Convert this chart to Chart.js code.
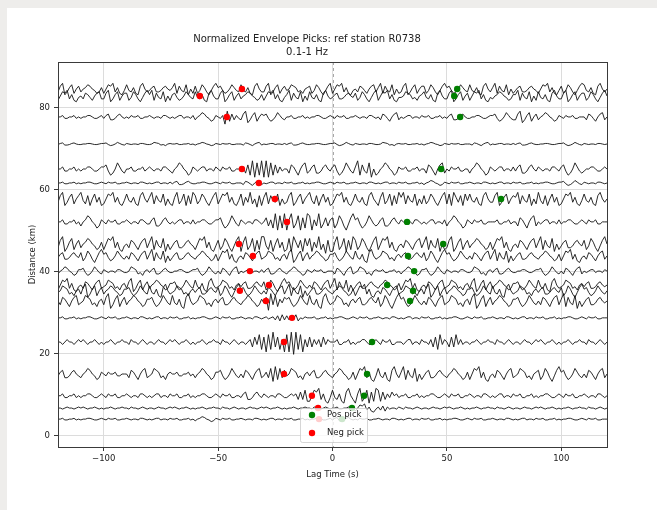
<!DOCTYPE html>
<html>
<head>
<meta charset="utf-8">
<title>Normalized Envelope Picks</title>
<script src="https://cdn.jsdelivr.net/npm/chart.js@4.4.1/dist/chart.umd.min.js"></script>
<style>
  html, body { margin: 0; padding: 0; background: #eeedeb; }
  #wrap { position: absolute; left: 7px; top: 8px; width: 650px; height: 502px; background: #ffffff; }
</style>
</head>
<body>
<div id="wrap"><canvas id="chart" width="650" height="502"></canvas></div>
<script>
// axis ticks
const xTicks = [-100, -50, 0, 50, 100];
const yTicks = [0, 20, 40, 60, 80];

// traces: baseline distance (km), gain (km per code step), and hand-read wiggle codes
// each code char is one sample, 1 s apart, from -120 s to 120 s ('5' = baseline)
const traceDist = [84.6, 82.9, 77.8, 71.2, 65.1, 61.7, 57.8, 52.2, 46.8, 43.9,
                   40.2, 36.8, 35.4, 32.9, 28.8, 22.9, 15.1, 9.8, 6.8, 4.1];
const traceGain = [0.35, 0.35, 0.35, 0.13, 0.5, 0.2, 0.4, 0.5, 0.45, 0.4,
                   0.35, 0.4, 0.4, 0.45, 0.25, 0.6, 0.45, 0.45, 0.25, 0.2];
const traceCodes = [
  "3791368257 3568754236 2587936214 8436217953 4673346754 6927438152 7248631479 6742358643 8436217953 3791368257 4587634256 7248631479 2587936214 5376425783 6927438152 3791368257 7248631479 6742358643 8436217953 6927438152 4673346754 2587936214 7248631479 8436217953 5",
  "2587936214 5376425783 3791368257 7248631479 6927438152 6742358643 8436217953 3791368257 3568754236 2587936214 6927438152 8436217953 4673346754 7248631479 2587936214 4587634256 8436217953 3791368257 2587936214 3568754236 6927438152 8436217953 3791368257 7248631479 5",
  "5564455645 4556654456 4673346754 5465564455 6545546654 5456645546 3568754236 5460927364 3791368257 6742358643 5564455645 4556654456 5465564455 6545546654 5376425783 5456645546 5564455645 4673346754 4556654456 6742358643 3791368257 3568754236 5465564455 5376425783 5",
  "4673346754 4556654456 6742358643 6545546654 4587634256 5564455645 3568754236 5465564455 5376425783 5456645546 4673346754 4556654456 6742358643 6545546654 4587634256 5564455645 3568754236 5465564455 5376425783 5456645546 4673346754 4556654456 6742358643 6545546654 5",
  "5564455645 4556654456 6742358643 5564455645 6545546654 3568754236 5456645546 5465564455 5637291829 1918273645 5376425783 4673346754 6742358643 6927438152 3568754236 5564455645 5376425783 5465564455 3568754236 5456645546 4673346754 6545546654 6742358643 4556654456 5",
  "5564455645 4556654456 5465564455 6545546654 5456645546 4673346754 4556654456 5465564455 5376425783 5456645546 5564455645 4556654456 5465564455 6545546654 5456645546 5564455645 3568754236 5465564455 6545546654 5456645546 5564455645 4556654456 6742358643 6545546654 5",
  "3791368257 9427158361 2587936214 8436217953 6927438152 1692481729 7248631479 2587936214 8163925071 6927438152 3791368257 9427158361 2587936214 8436217953 1692481729 6927438152 7248631479 2819637184 8436217953 3791368257 6927438152 9427158361 2587936214 8436217953 5",
  "5564455645 3568754236 5465564455 6545546654 4673346754 5456645546 4556654456 6742358643 6545546654 5736291829 1692481729 8163924736 7248631479 6742358643 4673346754 6545546654 5456645546 3568754236 5465564455 5564455645 5376425783 5456645546 4556654456 5465564455 5",
  "3791368257 3568754236 2587936214 5376425783 6927438152 4673346754 2587936214 7248631479 1692481729 9427158361 2819637184 8163925071 1692481729 7248631479 2587936214 5376425783 6927438152 3791368257 3568754236 2587936214 5376425783 6927438152 4673346754 7248631479 5",
  "4673346754 7248631479 6742358643 5376425783 6927438152 4673346754 3568754236 2587936214 5376425783 4587634256 3791368257 3568754236 6742358643 8436217953 4587634256 4673346754 7248631479 6742358643 5376425783 6927438152 4673346754 3568754236 2587936214 5376425783 5",
  "3568754236 6742358643 6545546654 4587634256 4673346754 4556654456 6742358643 5376425783 5456645546 4673346754 3568754236 5465564455 5376425783 4587634256 5564455645 3568754236 6742358643 6545546654 4587634256 4673346754 4556654456 6742358643 5376425783 5456645546 5",
  "2587936214 5376425783 4587634256 3791368257 3568754236 6742358643 8436217953 4587634256 4673346754 7248631479 6742358643 5376425783 6927438152 4673346754 3568754236 2587936214 5376425783 4587634256 3791368257 3568754236 6742358643 8436217953 4587634256 4673346754 5",
  "4587634256 3791368257 3568754236 6742358643 8436217953 4587634256 4673346754 7248631479 6742358643 5376425783 6927438152 4673346754 3568754236 2587936214 5376425783 4587634256 3791368257 3568754236 6742358643 8436217953 4587634256 4673346754 7248631479 6742358643 5",
  "5376425783 4587634256 3791368257 3568754236 6742358643 8436217953 4587634256 4673346754 3568754236 4709382647 6742358643 8436217953 4587634256 4673346754 7248631479 6742358643 5376425783 4587634256 3791368257 3568754236 6742358643 5376425783 6927438152 4673346754 5",
  "5564455645 4556654456 5465564455 6545546654 5456645546 5564455645 4556654456 5465564455 6545546654 5645637283 7364825465 5564455645 4556654456 5465564455 6545546654 5456645546 5564455645 4556654456 5465564455 6545546654 5456645546 5564455645 4556654456 5465564455 5",
  "5545655456 5654556545 4556545565 5465545654 5545655456 5654556545 4556545565 5465545654 5545637482 7182937261 8190928163 7364637465 5564455645 4556654456 5465564455 5456645546 5546372846 5373846455 4556545565 5465545654 5545655456 5654556545 4556545565 5465545654 5",
  "4673346754 3568754236 5465564455 5376425783 4587634256 5564455645 3568754236 6742358643 5376425783 4638192837 4587634256 4673346754 3568754236 2587936214 8436217953 6927438152 4673346754 3568754236 2587936214 5376425783 4587634256 7248631479 6742358643 5376425783 5",
  "5564455645 4556654456 5465564455 6545546654 5456645546 5564455645 4556654456 5465564455 4673346754 6545546654 4565637382 2587936214 8436217953 1692481729 8273647564 5564455645 4556654456 5465564455 6545546654 5456645546 5564455645 4556654456 5465564455 6545546654 5",
  "5545655456 5654556545 4556545565 5465545654 5545655456 5654556545 4556545565 5465545654 5545655456 5654556545 4556545565 5465545654 5564455645 2587936214 6372645546 5465545654 5545655456 5654556545 4556545565 5465545654 5545655456 5654556545 4556545565 5465545654 5",
  "5564455645 4556654456 5465564455 6545546654 5456645546 5564455645 3568754236 5465564455 6545546654 5456645546 5564455645 4556654456 4673346754 5465564455 6545546654 5456645546 5564455645 4556654456 5465564455 6545546654 5456645546 5564455645 4556654456 5465564455 5"
];
const lagStart = -120;
const lagEnd = 120;

// picks
const posPickLag  = [54.5, 53.2, 55.8, 47.5, 73.7, 32.6, 48.4, 33.0, 35.7, 23.9, 35.2, 33.9, 17.3, 15.1, 13.8, 8.5, 4.2];
const posPickDist = [84.6, 82.9, 77.8, 65.1, 57.8, 52.2, 46.8, 43.9, 40.2, 36.8, 35.4, 32.9, 22.9, 15.1, 9.8, 6.8, 4.1];
const negPickLag  = [-39.6, -58.0, -46.2, -39.6, -32.2, -25.2, -19.9, -40.9, -34.8, -36.1, -27.8, -40.5, -29.1, -17.7, -21.2, -21.2, -9.0, -6.3, -5.9];
const negPickDist = [84.6, 82.9, 77.8, 65.1, 61.7, 57.8, 52.2, 46.8, 43.9, 40.2, 36.8, 35.4, 32.9, 28.8, 22.9, 15.1, 9.8, 6.8, 4.1];

const FONT = "'DejaVu Sans', sans-serif";
const textColor = "#222222";
const gridColor = "#dcdcdc";

// build the trace datasets
const traceSets = traceCodes.map((code, k) => {
  const s = code.replace(/\s+/g, "");
  const step = (lagEnd - lagStart) / (s.length - 1);
  const pts = [];
  for (let i = 0; i < s.length; i++) {
    pts.push({ x: lagStart + i * step, y: traceDist[k] + (s.charCodeAt(i) - 53) * traceGain[k] });
  }
  return {
    label: "trace" + k,
    data: pts,
    showLine: true,
    borderColor: "rgba(20,20,20,0.9)",
    borderWidth: 1,
    pointRadius: 0,
    tension: 0,
    fill: false
  };
});

const pickSets = [
  {
    label: "Pos pick",
    data: posPickLag.map((x, i) => ({ x: x, y: posPickDist[i] })),
    backgroundColor: "#008000",
    borderWidth: 0,
    pointRadius: 3.2
  },
  {
    label: "Neg pick",
    data: negPickLag.map((x, i) => ({ x: x, y: negPickDist[i] })),
    backgroundColor: "#ff0000",
    borderWidth: 0,
    pointRadius: 3.2
  }
];

// dashed line at zero lag
const zeroLine = {
  id: "zeroLine",
  beforeDatasetsDraw(chart) {
    const { ctx, chartArea, scales } = chart;
    const x = Math.round(scales.x.getPixelForValue(0)) + 0.5;
    ctx.save();
    ctx.strokeStyle = "#a8a8a8";
    ctx.lineWidth = 1;
    ctx.setLineDash([3, 3]);
    ctx.beginPath();
    ctx.moveTo(x, chartArea.top);
    ctx.lineTo(x, chartArea.bottom);
    ctx.stroke();
    ctx.restore();
  }
};

// axes frame (all four spines)
const frame = {
  id: "frame",
  afterDatasetsDraw(chart) {
    const { ctx, chartArea: a } = chart;
    ctx.save();
    ctx.strokeStyle = "#3a3a3a";
    ctx.lineWidth = 1;
    ctx.strokeRect(Math.round(a.left) + 0.5, Math.round(a.top) + 0.5,
                   Math.round(a.right - a.left), Math.round(a.bottom - a.top));
    ctx.restore();
  }
};

// legend box inside the axes, lower centre
const pickLegend = {
  id: "pickLegend",
  afterDraw(chart) {
    const { ctx, chartArea: a } = chart;
    const w = 67, h = 34;
    const cx = (a.left + a.right) / 2 + 1;
    const x0 = cx - w / 2, y0 = a.bottom - 5 - h;
    ctx.save();
    ctx.fillStyle = "rgba(255,255,255,0.8)";
    ctx.strokeStyle = "rgba(204,204,204,0.8)";
    ctx.lineWidth = 1;
    ctx.beginPath();
    ctx.roundRect(x0 + 0.5, y0 + 0.5, w, h, 2);
    ctx.fill();
    ctx.stroke();
    ctx.font = "8.5px " + FONT;
    ctx.textBaseline = "middle";
    pickSets.forEach((ds, i) => {
      const yy = y0 + 7 + i * 18;
      ctx.fillStyle = ds.backgroundColor;
      ctx.beginPath();
      ctx.arc(x0 + 12, yy, 3.2, 0, Math.PI * 2);
      ctx.fill();
      ctx.fillStyle = textColor;
      ctx.fillText(ds.label, x0 + 27, yy);
    });
    ctx.restore();
  }
};

const fmt = (v) => (v < 0 ? "\u2212" + Math.abs(v) : String(v));

new Chart(document.getElementById("chart"), {
  type: "scatter",
  data: { datasets: pickSets.concat(traceSets) },
  plugins: [zeroLine, frame, pickLegend],
  options: {
    responsive: false,
    animation: false,
    events: [],
    layout: { padding: { top: 0, left: 0, right: 50, bottom: 0 } },
    plugins: {
      legend: { display: false },
      tooltip: { enabled: false },
      title: {
        display: true,
        text: ["Normalized Envelope Picks: ref station R0738", "0.1-1 Hz"],
        color: textColor,
        font: { family: FONT, size: 10, weight: "normal", lineHeight: 1.3 },
        padding: { top: 25, bottom: 3 }
      }
    },
    scales: {
      x: {
        type: "linear",
        min: -120,
        max: 120,
        afterBuildTicks: (s) => { s.ticks = xTicks.map((v) => ({ value: v })); },
        afterFit: (s) => { s.height = 63; },
        grid: { color: gridColor, lineWidth: 1, tickLength: 4, tickColor: "#3a3a3a" },
        border: { display: true, color: "#3a3a3a" },
        ticks: {
          color: textColor,
          padding: 3,
          maxRotation: 0,
          font: { family: FONT, size: 8.5 },
          callback: (v) => fmt(v)
        },
        title: {
          display: true,
          text: "Lag Time (s)",
          color: textColor,
          font: { family: FONT, size: 8.5 },
          padding: { top: 0, bottom: 30 }
        }
      },
      y: {
        type: "linear",
        min: -2.7,
        max: 91.2,
        afterBuildTicks: (s) => { s.ticks = yTicks.map((v) => ({ value: v })); },
        afterFit: (s) => { s.width = 51; },
        grid: { color: gridColor, lineWidth: 1, tickLength: 4, tickColor: "#3a3a3a" },
        border: { display: true, color: "#3a3a3a" },
        ticks: {
          color: textColor,
          padding: 4,
          font: { family: FONT, size: 8.5 },
          callback: (v) => fmt(v)
        },
        title: {
          display: true,
          text: "Distance (km)",
          color: textColor,
          font: { family: FONT, size: 8.5 },
          padding: { top: 21, bottom: 0 }
        }
      }
    }
  }
});
</script>
</body>
</html>
